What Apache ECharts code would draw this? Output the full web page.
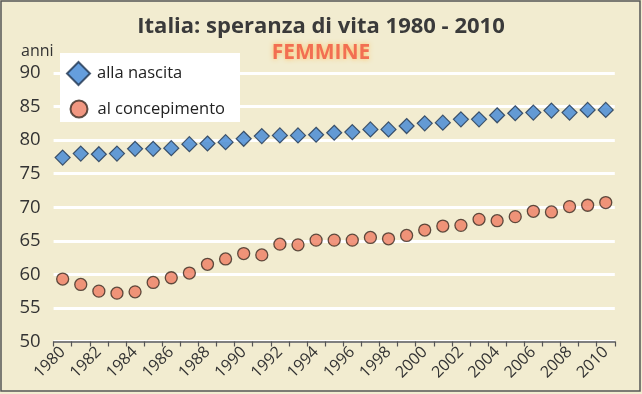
<!DOCTYPE html>
<html>
<head>
<meta charset="utf-8">
<script src="https://cdn.jsdelivr.net/npm/echarts@6/dist/echarts.min.js"></script>
<style>
html,body{margin:0;padding:0;background:#f2ecd0;}
#c{width:642px;height:394px;}
</style>
</head>
<body>
<div id="c"></div>
<script>
var years = [];
for (var y = 1980; y <= 2010; y++) years.push(String(y));
var allaNascita = [77.4, 78.0, 77.9, 78.0, 78.7, 78.7, 78.8, 79.4, 79.5, 79.7, 80.2, 80.6, 80.7, 80.7, 80.8, 81.1,
  81.2, 81.6, 81.6, 82.1, 82.5, 82.6, 83.1, 83.1, 83.7, 84.0, 84.1, 84.4, 84.1, 84.5, 84.5];
var alConcepimento = [59.3, 58.5, 57.5, 57.2, 57.4, 58.8, 59.5, 60.2, 61.5, 62.3, 63.1, 62.9, 64.5, 64.4, 65.1, 65.1,
  65.1, 65.5, 65.3, 65.8, 66.6, 67.2, 67.3, 68.2, 68.0, 68.6, 69.4, 69.3, 70.1, 70.3, 70.7];
var yTicks = [50, 55, 60, 65, 70, 75, 80, 85, 90];

var FONT = '"Open Sans", sans-serif';
var chart = echarts.init(document.getElementById('c'), null, {renderer: 'canvas'});
chart.setOption({
  backgroundColor: '#f2ecd0',
  animation: false,
  title: [{
    text: 'Italia: speranza di vita 1980 - 2010',
    left: 'center', top: 11,
    textStyle: {fontFamily: FONT, fontWeight: 'bold', fontSize: 22, color: '#3a3a3a'}
  }, {
    text: 'FEMMINE',
    left: 'center', top: 38,
    textStyle: {fontFamily: FONT, fontWeight: 'bold', fontSize: 21, color: '#f26f52',
      textShadowColor: 'rgba(255,190,90,0.9)', textShadowBlur: 5}
  }],
  grid: {left: 53.6, right: 27.2, top: 73, bottom: 52.5},
  graphic: [{
    type: 'rect', z: 1, silent: true,
    shape: {x: 60, y: 53, width: 180, height: 69},
    style: {fill: '#ffffff'}
  }, {
    type: 'rect', z: 100, silent: true,
    shape: {x: 1, y: 1, width: 639, height: 390},
    style: {fill: 'none', stroke: '#555', lineWidth: 1.5}
  }],
  legend: [{
    data: [{name: 'alla nascita', icon: 'diamond'}],
    left: 66, top: 61, itemWidth: 23, itemHeight: 23, padding: 0, z: 5,
    textStyle: {fontFamily: FONT, fontSize: 16.5, color: '#222', padding: [0, 0, 0, 2]}
  }, {
    data: [{name: 'al concepimento', icon: 'circle'}],
    left: 69.5, top: 99.5, itemWidth: 17, itemHeight: 17, padding: 0, z: 5,
    textStyle: {fontFamily: FONT, fontSize: 16.5, color: '#222', padding: [0, 0, 0, 5]}
  }],
  xAxis: {
    type: 'category',
    data: years,
    boundaryGap: true,
    axisLine: {lineStyle: {color: '#555', width: 1.5}},
    axisTick: {show: true, interval: 0, length: 5, lineStyle: {color: '#555', width: 1.2}},
    axisLabel: {interval: 1, rotate: 45, margin: 8, fontFamily: FONT, fontSize: 16, color: '#333'},
    splitLine: {show: false}
  },
  yAxis: {
    type: 'value', min: 50, max: 90, interval: 5,
    name: 'anni', nameLocation: 'end', nameGap: 14,
    nameTextStyle: {fontFamily: FONT, fontSize: 16, color: '#333', align: 'right', padding: [0, 0, 0, 0]},
    axisLine: {show: false}, axisTick: {show: false},
    axisLabel: {margin: 13, fontFamily: FONT, fontSize: 18.5, color: '#333',
      formatter: function (v) { return yTicks.indexOf(v) >= 0 ? String(v) : ''; }},
    splitLine: {show: true, lineStyle: {color: '#ffffff', width: 3}}
  },
  series: [{
    name: 'alla nascita', type: 'scatter', data: allaNascita,
    symbol: 'diamond', symbolSize: 15, z: 3,
    itemStyle: {color: '#3f86d4', borderColor: '#1f3550', borderWidth: 1.2}
  }, {
    name: 'al concepimento', type: 'scatter', data: alConcepimento,
    symbol: 'circle', symbolSize: 12, z: 3,
    itemStyle: {color: '#ee7d62', borderColor: '#3a2a22', borderWidth: 1.3}
  }]
});
</script>
</body>
</html>
